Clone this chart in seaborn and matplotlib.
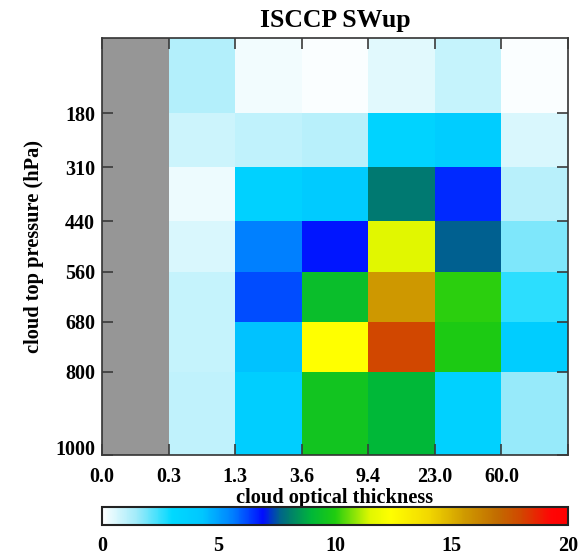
import numpy as np
import pandas as pd
import matplotlib
matplotlib.use("Agg")
import matplotlib.pyplot as plt
import seaborn as sns
from matplotlib.colors import LinearSegmentedColormap

# ---------------- data ----------------
tau_labels = ["0.0", "0.3", "1.3", "3.6", "9.4", "23.0", "60.0", ""]
pressure_bounds = [0, 180, 310, 440, 560, 680, 800, 1000]
pressure_labels = ["180", "310", "440", "560", "680", "800", "1000"]
col_names = ["c0", "c1", "c2", "c3", "c4", "c5", "c6"]

nan = np.nan
row_0_180 = [nan, 1.2, 0.2, 0.1, 0.5, 0.9, 0.1]
row_180_310 = [nan, 0.8, 1.0, 1.1, 3.4, 3.9, 0.6]
row_310_440 = [nan, 0.3, 3.6, 4.0, 8.0, 6.6, 1.1]
row_440_560 = [nan, 0.6, 5.6, 6.8, 11.5, 7.6, 1.8]
row_560_680 = [nan, 0.9, 6.2, 9.3, 15.6, 10.1, 2.6]
row_680_800 = [nan, 0.9, 4.4, 12.4, 18.0, 9.9, 3.9]
row_800_1000 = [nan, 1.0, 3.8, 9.6, 9.0, 3.6, 1.6]

data = pd.DataFrame(
    [row_0_180, row_180_310, row_310_440, row_440_560,
     row_560_680, row_680_800, row_800_1000],
    columns=col_names,
)

# ---------------- style ----------------
sns.set_theme(style="ticks")
plt.rcParams.update({
    "font.family": ["Liberation Serif", "DejaVu Serif"],
    "font.weight": "bold",
    "text.color": "black",
    "xtick.labelcolor": "black",
    "ytick.labelcolor": "black",
    "axes.labelcolor": "black",
    "axes.axisbelow": False,
})

vmax = 20.0
nodes = [
    (0.0, (1.0, 1.0, 1.0)),
    (1.5, (0.62, 0.92, 0.98)),
    (3.0, (0.0, 0.85, 1.0)),
    (4.3, (0.0, 0.78, 1.0)),
    (5.6, (0.0, 0.5, 1.0)),
    (6.9, (0.0, 0.05, 1.0)),
    (7.6, (0.0, 0.38, 0.56)),
    (8.0, (0.0, 0.48, 0.44)),
    (9.0, (0.0, 0.72, 0.22)),
    (10.0, (0.12, 0.8, 0.06)),
    (11.5, (0.88, 0.97, 0.0)),
    (12.4, (1.0, 1.0, 0.0)),
    (14.0, (0.95, 0.85, 0.0)),
    (15.6, (0.81, 0.6, 0.0)),
    (17.0, (0.76, 0.42, 0.0)),
    (18.0, (0.82, 0.28, 0.0)),
    (19.3, (1.0, 0.02, 0.02)),
    (20.0, (1.0, 0.0, 0.0)),
]
cmap = LinearSegmentedColormap.from_list(
    "isccp", [(v / vmax, c) for v, c in nodes], N=512)

fig = plt.figure(figsize=(5.88, 5.58), dpi=100)
ax = fig.add_axes([102 / 588, 1 - 455 / 558, 466 / 588, 417 / 558])
cax = fig.add_axes([102 / 588, 1 - 525 / 558, 466 / 588, 18 / 558])
ax.set_facecolor("#969696")

sns.heatmap(data, ax=ax, cmap=cmap, vmin=0, vmax=vmax, cbar_ax=cax,
            cbar_kws={"orientation": "horizontal", "ticks": [0, 5, 10, 15, 20]},
            xticklabels=False, yticklabels=False)
ax.set_axisbelow(False)

# pressure-linear vertical scale
idx = np.arange(len(pressure_bounds), dtype=float)
pb = np.array(pressure_bounds, dtype=float)


def fwd(x):
    return np.interp(x, idx, pb)


def inv(p):
    return np.interp(p, pb, idx)


ax.set_yscale("function", functions=(fwd, inv))
ax.set_ylim(len(pressure_bounds) - 1, 0)
ax.set_xlim(0, len(col_names))

ax.set_yticks(np.arange(1, len(pressure_bounds)))
ax.set_yticklabels(pressure_labels, fontsize=14.5, fontweight="bold")
ax.set_xticks(np.arange(0, len(col_names) + 1))
ax.set_xticklabels(tau_labels, fontsize=14.5, fontweight="bold")
ax.minorticks_off()
ax.get_yticklabels()[-1].set_verticalalignment("baseline")

ax.tick_params(axis="both", which="major", direction="in", length=8,
               width=1.2, color="#3a3a3a", top=True, right=True,
               left=True, bottom=True)
ax.tick_params(axis="y", pad=5)
ax.tick_params(axis="x", pad=9)
for s in ax.spines.values():
    s.set_visible(True)
    s.set_color("#333333")
    s.set_linewidth(1.2)

ax.set_xlabel("cloud optical thickness", fontsize=14.7, fontweight="bold",
              labelpad=0)
ax.set_ylabel("cloud top pressure (hPa)", fontsize=14.7, fontweight="bold",
              labelpad=8)
ax.set_title("ISCCP SWup", fontsize=18.5, fontweight="bold", pad=8)

cax.tick_params(axis="x", direction="out", length=0, pad=8, labelsize=14.5,
                top=False)
cax.tick_params(axis="y", left=False, right=False)
for lab in cax.get_xticklabels():
    lab.set_fontweight("bold")
cbar = ax.collections[0].colorbar
cbar.outline.set_edgecolor("#222222")
cbar.outline.set_linewidth(1.5)

fig.savefig("out.png", dpi=100)
